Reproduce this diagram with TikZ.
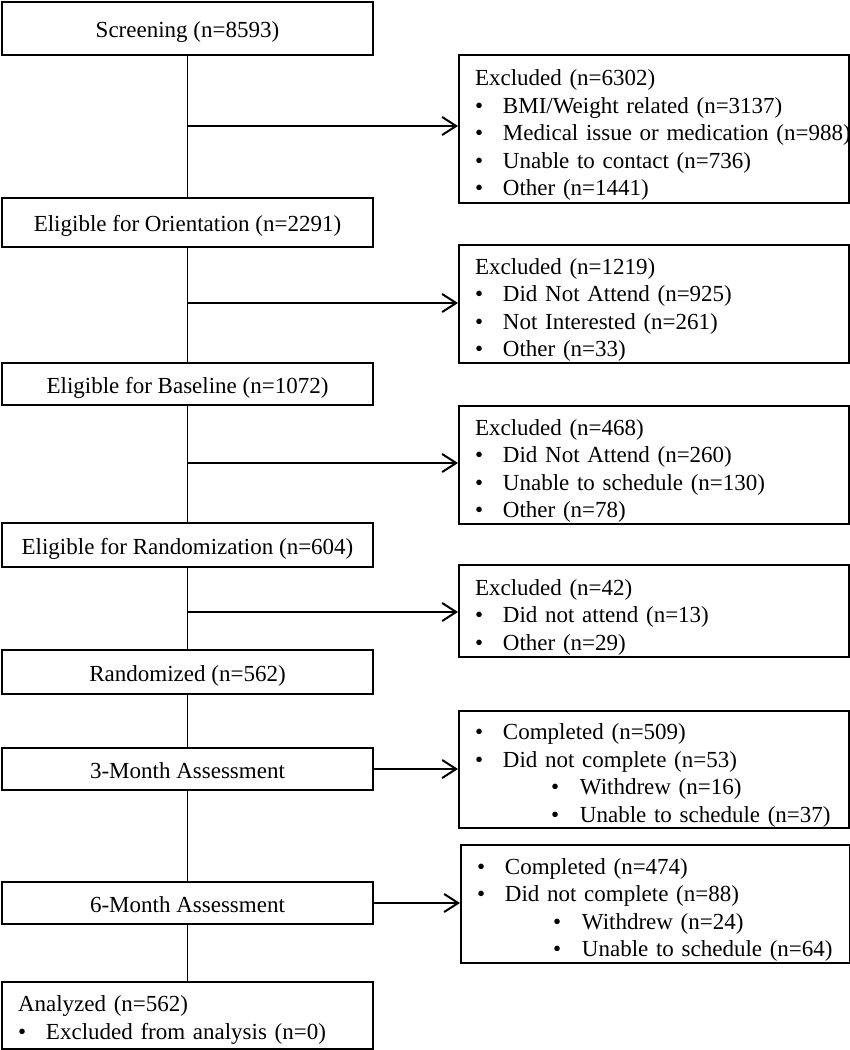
\documentclass[tikz,border=0pt]{standalone}
\usepackage{fontspec}
\setmainfont{Liberation Serif}
\usetikzlibrary{arrows.meta,calc}
\newcommand\bul[1]{\mbox{\makebox[28pt][l]{\textbullet}#1}}
\newcommand\subbul[1]{\mbox{\hspace{76pt}\makebox[29pt][l]{\textbullet}#1}}
\newcommand\hd[1]{\mbox{#1}}
\newcommand\fstrut{\rule{0pt}{28pt}}
\begin{document}
\begin{tikzpicture}[x=1pt,y=-1pt,
  every node/.style={font=\fontsize{23}{27.5}\selectfont},
  lbox/.style={draw, line width=2pt, anchor=north west, minimum width=371pt,
    inner sep=0pt, text height=22pt, text depth=4pt},
  xbox/.style={draw, line width=2pt, anchor=north west, align=left,
    inner xsep=16pt, inner ysep=0pt, text width=#1},
  vline/.style={line width=1.2pt},
  arr/.style={line width=2pt, -{Straight Barb[length=14pt,width=18pt,line width=2pt]}}
]
\useasboundingbox (0,0) rectangle (850,1050);
% left column
\node[lbox, minimum height=53pt] (scr) at (1,1) {Screening (n=8593)};
\node[lbox, minimum height=49pt] (ori) at (1,197) {Eligible for Orientation (n=2291)};
\node[lbox, minimum height=42pt] (bas) at (1,362) {Eligible for Baseline (n=1072)};
\node[lbox, minimum height=44pt] (rel) at (1,522) {Eligible for Randomization (n=604)};
\node[lbox, minimum height=44pt] (ran) at (1,649) {Randomized (n=562)};
\node[lbox, minimum height=42pt] (m3) at (1,747) {3-Month Assessment};
\node[lbox, minimum height=42pt] (m6) at (1,881) {6-Month Assessment};
\node[xbox=339pt, minimum height=67pt] (ana) at (1,981)
  {\rule{0pt}{25pt}\hd{Analyzed (n=562)}\\
   \bul{Excluded from analysis (n=0)}};
% right column
\node[xbox=358pt, minimum height=148pt] (ex1) at (458,54)
  {\fstrut\hd{Excluded (n=6302)}\\
   \bul{BMI/Weight related (n=3137)}\\
   \bul{Medical issue or medication (n=988)}\\
   \bul{Unable to contact (n=736)}\\
   \bul{Other (n=1441)}};
\node[xbox=358pt, minimum height=118pt] (ex2) at (458,244)
  {\fstrut\hd{Excluded (n=1219)}\\
   \bul{Did Not Attend (n=925)}\\
   \bul{Not Interested (n=261)}\\
   \bul{Other (n=33)}};
\node[xbox=358pt, minimum height=118pt] (ex3) at (458,405)
  {\fstrut\hd{Excluded (n=468)}\\
   \bul{Did Not Attend (n=260)}\\
   \bul{Unable to schedule (n=130)}\\
   \bul{Other (n=78)}};
\node[xbox=358pt, minimum height=92pt] (ex4) at (458,564)
  {\fstrut\hd{Excluded (n=42)}\\
   \bul{Did not attend (n=13)}\\
   \bul{Other (n=29)}};
\node[xbox=358pt, minimum height=117pt] (ex5) at (458,710)
  {\fstrut\bul{Completed (n=509)}\\
   \bul{Did not complete (n=53)}\\
   \subbul{Withdrew (n=16)}\\
   \subbul{Unable to schedule (n=37)}};
\node[xbox=357pt, minimum height=118pt] (ex6) at (460,844)
  {\fstrut\bul{Completed (n=474)}\\
   \bul{Did not complete (n=88)}\\
   \subbul{Withdrew (n=24)}\\
   \subbul{Unable to schedule (n=64)}};
% vertical connectors
\draw[vline] (scr.south) -- (ori.north);
\draw[vline] (ori.south) -- (bas.north);
\draw[vline] (bas.south) -- (rel.north);
\draw[vline] (rel.south) -- (ran.north);
\draw[vline] (ran.south) -- (m3.north);
\draw[vline] (m3.south) -- (m6.north);
\draw[vline] (m6.south) -- (ana.north);
% branch points
\coordinate (b1) at (scr.south |- 0,126);
\coordinate (b2) at (ori.south |- 0,303);
\coordinate (b3) at (bas.south |- 0,463);
\coordinate (b4) at (rel.south |- 0,612);
\draw[arr] (b1) -- (b1 -| ex1.west);
\draw[arr] (b2) -- (b2 -| ex2.west);
\draw[arr] (b3) -- (b3 -| ex3.west);
\draw[arr] (b4) -- (b4 -| ex4.west);
\draw[arr] (m3.east) -- (m3.east -| ex5.west);
\draw[arr] (m6.east) -- (m6.east -| ex6.west);
\end{tikzpicture}
\end{document}
